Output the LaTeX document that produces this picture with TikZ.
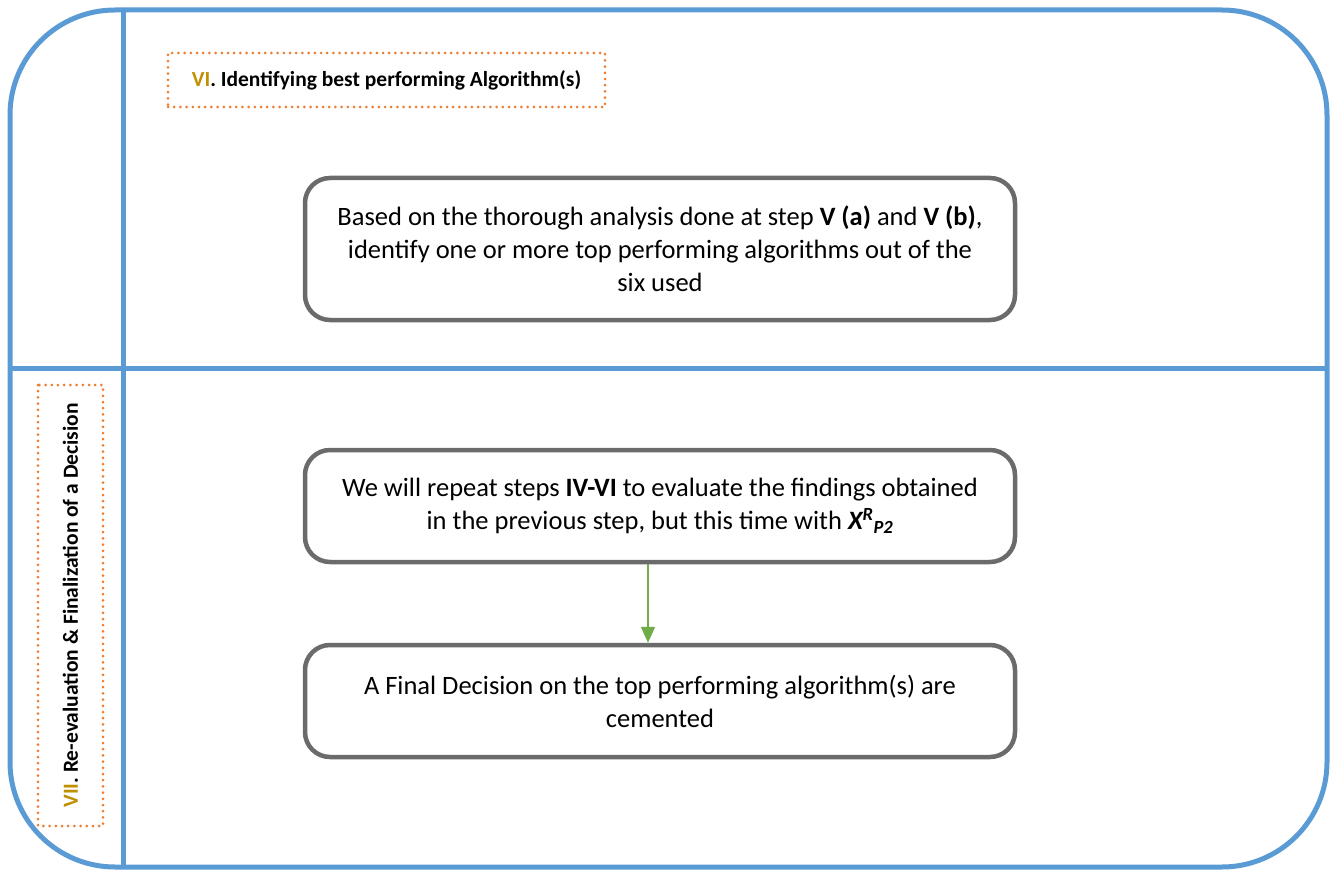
\documentclass[tikz,border=0pt]{standalone}
\usepackage{fontspec}
\setmainfont{Carlito}
\usetikzlibrary{arrows.meta}
\definecolor{frameblue}{HTML}{5B9BD5}
\definecolor{boxgray}{HTML}{6B6B6B}
\definecolor{dotorange}{HTML}{ED7D31}
\definecolor{numgold}{HTML}{BF9000}
\definecolor{arrowgreen}{HTML}{70AD47}
\tikzset{
  frame/.style={draw=frameblue, line width=5pt},
  stagebox/.style={draw=boxgray, line width=4.5pt, rounded corners=25pt, fill=white,
    align=center, inner sep=0pt, minimum width=710pt,
    font=\fontsize{26.5}{33}\selectfont},
  labelbox/.style={draw=dotorange, line width=3pt, line cap=round,
    dash pattern=on 0pt off 6.2pt, inner sep=0pt,
    font=\bfseries\fontsize{21.5}{24}\selectfont},
  flow/.style={draw=arrowgreen, line width=2pt, -{Triangle[length=16pt,width=14pt]}}
}
\begin{document}
\begin{tikzpicture}[x=1pt,y=-1pt]
\useasboundingbox (0,0) rectangle (1334,872);
% outer frame and lane dividers
\draw[frame, rounded corners=105pt] (10,10) rectangle (1327,867);
\draw[frame] (123,10) -- (123,867);
\draw[frame] (10,368) -- (1327,368);

% stage labels
\node[labelbox, minimum width=437pt, minimum height=54pt] (lab6) at (386.5,80)
  {\textcolor{numgold}{VI}. Identifying best performing Algorithm(s)};
\node[labelbox, rotate=90, minimum width=441pt, minimum height=65pt] (lab7) at (70.5,605.5)
  {\textcolor{numgold}{VII}. Re-evaluation \& Finalization of a Decision};

% stage boxes
\node[stagebox, minimum height=142pt] (best) at (660,249)
  {Based on the thorough analysis done at step \textbf{V (a)} and \textbf{V (b)},\\
   identify one or more top performing algorithms out of the\\
   six used};
\node[stagebox, minimum height=112pt] (repeat) at (660,506)
  {We will repeat steps \textbf{IV-VI} to evaluate the findings obtained\\
   in the previous step, but this time with \textbf{\textit{X\textsuperscript{R}\textsubscript{P2}}}};
\node[stagebox, minimum height=112pt] (final) at (660,701)
  {A Final Decision on the top performing algorithm(s) are\\
   cemented};

\draw[flow] ([xshift=-12pt]repeat.south) -- ([xshift=-12pt]final.north);
\end{tikzpicture}
\end{document}
